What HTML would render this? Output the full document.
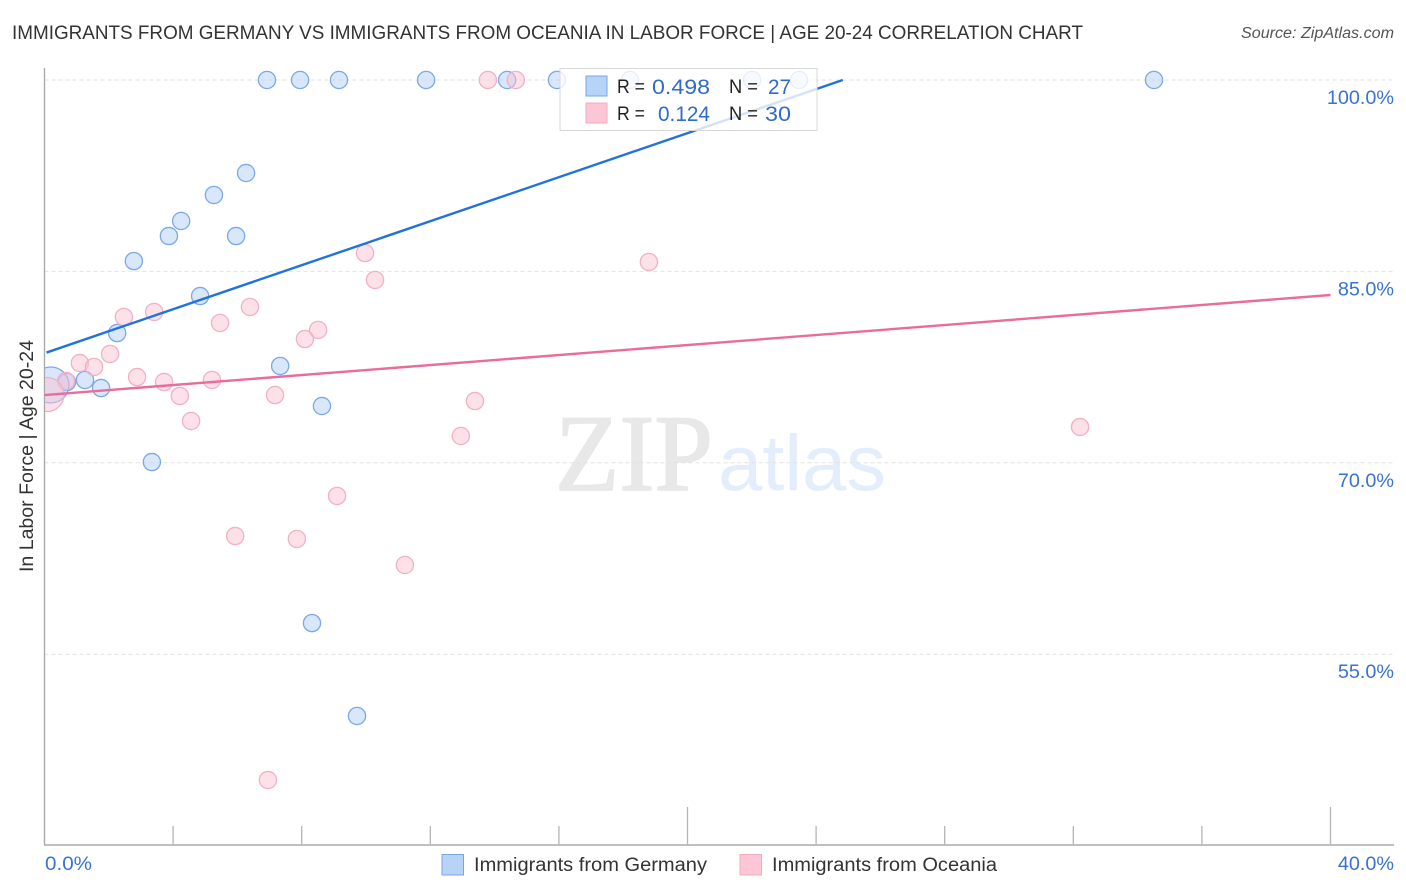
<!DOCTYPE html>
<html lang="en">
<head>
<meta charset="utf-8">
<title>Immigrants from Germany vs Immigrants from Oceania in Labor Force</title>
<style>
html,body{margin:0;padding:0;background:#fff;width:1406px;height:892px;overflow:hidden}
svg{display:block;font-family:"Liberation Sans",sans-serif}
</style>
</head>
<body>
<svg id="chart" xmlns="http://www.w3.org/2000/svg" width="1406" height="892" viewBox="0 0 1406 892">
  <defs><clipPath id="plot-clip"><rect x="45" y="60" width="1349" height="785"/></clipPath></defs>
  <rect x="0" y="0" width="1406" height="892" fill="#fff"/>
  <text x="12" y="39" font-size="19.4" fill="#333" textLength="1071" lengthAdjust="spacingAndGlyphs">IMMIGRANTS FROM GERMANY VS IMMIGRANTS FROM OCEANIA IN LABOR FORCE | AGE 20-24 CORRELATION CHART</text>
  <text x="1241" y="38" font-size="15.5" font-style="italic" fill="#555" textLength="153" lengthAdjust="spacingAndGlyphs">Source: ZipAtlas.com</text>
  <text x="555" y="490" font-family="'Liberation Serif',serif" font-size="109" fill="#e8e8e8" stroke="#e8e8e8" stroke-width="1.6" textLength="158" lengthAdjust="spacingAndGlyphs">ZIP</text>
  <text x="718" y="490" font-size="79" fill="#e4edfb" textLength="168" lengthAdjust="spacingAndGlyphs">atlas</text>
  <g id="grid"></g>
  <g id="axes"></g>
  <g id="points" clip-path="url(#plot-clip)"></g>
  <g id="trends"></g>
  <text transform="translate(33,572) rotate(-90)" font-size="19" fill="#333" textLength="232" lengthAdjust="spacingAndGlyphs">In Labor Force | Age 20-24</text>

  <g>
    <rect x="560" y="68.5" width="257" height="62" fill="#fff" fill-opacity="0.8" stroke="#d8d8d8" stroke-width="1"/>
    <rect x="586" y="76" width="21" height="20" fill="#b7d3f8" stroke="#77a5e6" stroke-width="1"/>
    <rect x="586" y="103" width="21" height="20" fill="#fcc6d6" stroke="#f4a9c3" stroke-width="1"/>
    <text x="617" y="93" font-size="19" fill="#222" textLength="28" lengthAdjust="spacingAndGlyphs">R =</text>
    <text x="652" y="94" font-size="21.5" fill="#2f6bcb" textLength="58" lengthAdjust="spacingAndGlyphs">0.498</text>
    <text x="729" y="93" font-size="19" fill="#222" textLength="29" lengthAdjust="spacingAndGlyphs">N =</text>
    <text x="768" y="94" font-size="21.5" fill="#2f6bcb" textLength="23" lengthAdjust="spacingAndGlyphs">27</text>
    <text x="617" y="120" font-size="19" fill="#222" textLength="28" lengthAdjust="spacingAndGlyphs">R =</text>
    <text x="658" y="121" font-size="21.5" fill="#2f6bcb" textLength="52" lengthAdjust="spacingAndGlyphs">0.124</text>
    <text x="729" y="120" font-size="19" fill="#222" textLength="29" lengthAdjust="spacingAndGlyphs">N =</text>
    <text x="765" y="121" font-size="21.5" fill="#2f6bcb" textLength="26" lengthAdjust="spacingAndGlyphs">30</text>
  </g>

  <g>
    <rect x="442" y="854.5" width="21.5" height="20.5" fill="#b7d3f8" stroke="#77a5e6" stroke-width="1"/>
    <text x="474" y="871" font-size="19" fill="#333" textLength="233" lengthAdjust="spacingAndGlyphs">Immigrants from Germany</text>
    <rect x="740" y="854.5" width="21.5" height="20.5" fill="#fcc6d6" stroke="#f4a9c3" stroke-width="1"/>
    <text x="772" y="871" font-size="19" fill="#333" textLength="225" lengthAdjust="spacingAndGlyphs">Immigrants from Oceania</text>
  </g>
</svg>
<script>
const germanyX = [6.92,7.95,9.16,11.87,14.39,15.94,18.21,22.01,23.47,34.51,6.27,5.27,4.25,3.87,5.96,2.78,4.84,2.26,7.33,1.26,0.70,1.76,8.63,3.34,8.32,9.72,0.20];
const germanyY = [100,100,100,100,100,100,100,100,100,100,92.71,90.99,88.95,87.77,87.77,85.81,83.07,80.17,77.59,76.49,76.33,75.86,74.45,70.06,57.44,50.16,76.10];
const oceaniaX = [13.79,14.66,9.97,10.28,18.80,6.39,5.46,2.47,3.41,2.04,8.51,8.10,1.10,1.54,2.88,3.72,5.21,4.21,7.17,0.67,4.56,13.39,12.95,32.21,9.10,5.93,7.85,11.21,6.95,0.08];
const oceaniaY = [100,100,86.44,84.33,85.74,82.21,80.96,81.43,81.82,78.53,80.41,79.70,77.82,77.51,76.72,76.33,76.49,75.24,75.31,76.41,73.28,74.84,72.10,72.81,67.40,64.26,64.03,61.99,45.14,75.35];
const germanyTrendX = [0, 24.83];
const germanyTrendY = [78.64, 100];
const oceaniaTrendX = [0, 40];
const oceaniaTrendY = [75.31, 83.15];
const yTickValues = [100, 85, 70, 55];
const yTickLabels = ["100.0%", "85.0%", "70.0%", "55.0%"];
const xTickValues = [0, 4, 8, 12, 16, 20, 24, 28, 32, 36, 40];
const xMajorTicks = [20, 40];
const xEndLabels = ["0.0%", "40.0%"];

const NS = "http://www.w3.org/2000/svg";
const xScale = v => 44.5 + v * 32.15;
const yScale = v => 80 + (100 - v) * 12.76;
const BOTTOM = 845;

function make(tag, parent, attrs) {
  const el = document.createElementNS(NS, tag);
  for (const k in attrs) el.setAttribute(k, attrs[k]);
  parent.appendChild(el);
  return el;
}

const grid = document.getElementById("grid");
const axes = document.getElementById("axes");
const points = document.getElementById("points");
const trends = document.getElementById("trends");

yTickValues.forEach((v, i) => {
  const line = make("line", grid, {x1: 44.5, x2: 1394, y1: yScale(v), y2: yScale(v), stroke: "#e2e2e2", "stroke-width": 1, "stroke-dasharray": "4 3"});
  
  
  const label = make("text", axes, {x: 1394, y: yScale(v) + 24, "font-size": 19.8, fill: "#3a72d2", "text-anchor": "end"});
  label.textContent = yTickLabels[i];
  
  
});

const yAxis = make("line", axes, {x1: 44.5, x2: 44.5, y1: 68, y2: BOTTOM, stroke: "#aaa", "stroke-width": 1.4});


const xAxis = make("line", axes, {x1: 44, x2: 1394, y1: BOTTOM, y2: BOTTOM, stroke: "#aaa", "stroke-width": 1.4});



xTickValues.forEach(v => {
  if (v === 0) return;
  const top = xMajorTicks.includes(v) ? 807 : 826;
  const tick = make("line", axes, {x1: xScale(v), x2: xScale(v), y1: top, y2: BOTTOM, stroke: "#b5b5b5", "stroke-width": 1.3});
  
  
});

const xLabelLeft = make("text", axes, {x: 45, y: 870, "font-size": 19.8, fill: "#3a72d2", textLength: 47, lengthAdjust: "spacingAndGlyphs"});
xLabelLeft.textContent = xEndLabels[0];


const xLabelRight = make("text", axes, {x: 1394, y: 870, "font-size": 19.8, fill: "#3a72d2", "text-anchor": "end"});
xLabelRight.textContent = xEndLabels[1];



germanyX.forEach((x, i) => {
  const big = i === germanyX.length - 1;
  const dot = make("circle", points, {cx: xScale(x), cy: yScale(germanyY[i]), r: big ? 18 : 8.6, fill: "#b3cff6", "fill-opacity": 0.5, stroke: "#7ba8e8", "stroke-width": 1.3});
  
  
});
oceaniaX.forEach((x, i) => {
  const big = i === oceaniaX.length - 1;
  const dot = make("circle", points, {cx: xScale(x), cy: yScale(oceaniaY[i]), r: big ? 17 : 8.6, fill: "#f9c3d4", "fill-opacity": 0.5, stroke: "#f2b0c7", "stroke-width": 1.3});
  
  
});

const germanyTrend = make("line", trends, {x1: xScale(germanyTrendX[0]) + 2, y1: yScale(germanyTrendY[0]), x2: xScale(germanyTrendX[1]), y2: yScale(germanyTrendY[1]), stroke: "#2272dc", "stroke-width": 2.4});


const oceaniaTrend = make("line", trends, {x1: xScale(oceaniaTrendX[0]), y1: yScale(oceaniaTrendY[0]), x2: xScale(oceaniaTrendX[1]), y2: yScale(oceaniaTrendY[1]), stroke: "#e96c9b", "stroke-width": 2.4});


</script>
</body>
</html>
